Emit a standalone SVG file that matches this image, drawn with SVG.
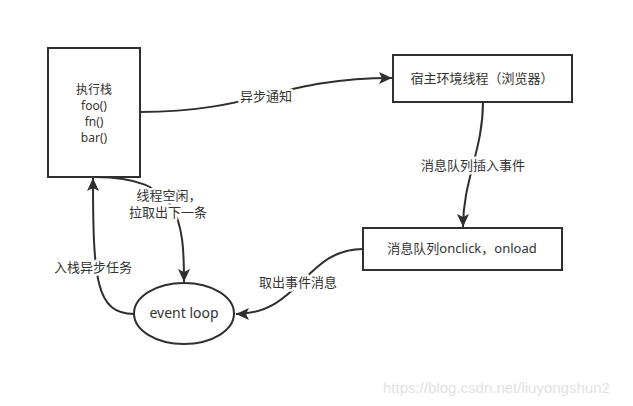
<svg xmlns="http://www.w3.org/2000/svg" width="633" height="406" viewBox="0 0 633 406">
<style>
  .box { fill: #fff; stroke: #2f2f2f; stroke-width: 2; }
  .edge { fill: none; stroke: #2f2f2f; stroke-width: 2; }
  .t { font-family: "Noto Sans", "Noto Sans CJK SC", sans-serif; font-size: 13px; fill: #333; text-anchor: middle; }
  .s { font-size: 12px; }
  .lbl { font-family: "Noto Sans", "Noto Sans CJK SC", sans-serif; font-size: 13px; fill: #333; text-anchor: middle; stroke: #fff; stroke-width: 5; paint-order: stroke; stroke-linejoin: round; }
  .wm { font-family: "Liberation Sans", Arial, sans-serif; font-size: 15px; fill: #e2e2e2; }
</style>
<defs>
  <marker id="arr" markerUnits="userSpaceOnUse" markerWidth="14" markerHeight="12" viewBox="0 0 14 12" refX="13" refY="6" orient="auto">
    <path d="M0,0 L13,6 L0,12 L3,6 z" fill="#2f2f2f"/>
  </marker>
</defs>
<rect width="633" height="406" fill="#fff"/>
<g id="connectors">
  <path class="edge" d="M140,112 C255,112 280,78 392,78" marker-end="url(#arr)"/>
  <path class="edge" d="M483,102 C483,150 463,180 463,227" marker-end="url(#arr)"/>
  <path class="edge" d="M363,249 C305,249 300,314 236,314" marker-end="url(#arr)"/>
  <path class="edge" d="M95,177 C180,177 184,220 184,282" marker-end="url(#arr)"/>
  <path class="edge" d="M134,314 C96,314 93,280 93,178" marker-end="url(#arr)"/>
  <text class="lbl" x="266" y="101">异步通知</text>
  <text class="lbl" x="473" y="170">消息队列插入事件</text>
  <text class="lbl" x="298" y="287">取出事件消息</text>
  <text class="lbl" x="169" y="200">线程空闲，</text>
  <text class="lbl" x="168" y="217">拉取出下一条</text>
  <text class="lbl" x="93" y="272">入栈异步任务</text>
</g>
<g id="stack">
  <rect class="box" x="48" y="48" width="92" height="129"/>
  <text class="t s" x="94" y="94">执行栈</text>
  <text class="t s" x="94" y="110">foo()</text>
  <text class="t s" x="94" y="126">fn()</text>
  <text class="t s" x="94" y="142">bar()</text>
</g>
<g id="host">
  <rect class="box" x="393" y="55" width="179" height="47"/>
  <text class="t" x="482" y="83">宿主环境线程（浏览器）</text>
</g>
<g id="queue">
  <rect class="box" x="363" y="228" width="199" height="42"/>
  <text class="t" x="462" y="253">消息队列onclick，onload</text>
</g>
<g id="eventloop">
  <ellipse class="box" cx="184" cy="313.5" rx="50" ry="30.5"/>
  <text class="t" x="184" y="318" style="font-size:14px">event loop</text>
</g>
<text class="wm" x="383" y="393">https://blog.csdn.net/liuyongshun2</text>
</svg>
